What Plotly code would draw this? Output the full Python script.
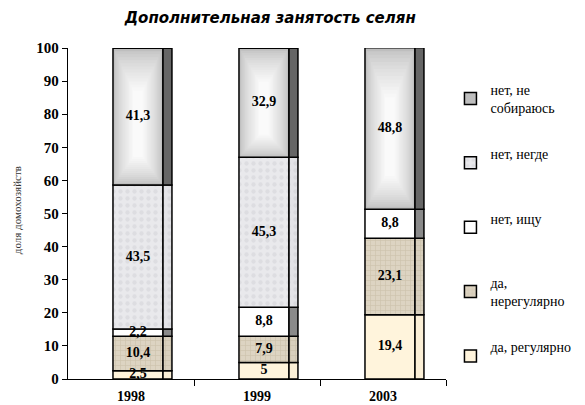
import numpy as np
import plotly.graph_objects as go

years = ["1998", "1999", "2003"]
# series, bottom to top
s_reg = [2.5, 5.0, 19.4]      # да, регулярно
s_nereg = [10.4, 7.9, 23.1]   # да, нерегулярно
s_ishu = [2.2, 8.8, 8.8]      # нет, ищу
s_negde = [43.5, 45.3, 0.0]   # нет, негде
s_nesob = [41.3, 32.9, 48.8]  # нет, не собираюсь
y_ticks = [0, 10, 20, 30, 40, 50, 60, 70, 80, 90, 100]

NB = "<br>\u00a0"
names = ["да, регулярно" + NB, "да,<br>нерегулярно", "нет, ищу" + NB, "нет, негде" + NB, "нет, не<br>собираюсь"]
series = [s_reg, s_nereg, s_ishu, s_negde, s_nesob]

SERIF = "Liberation Serif, Times New Roman, Tinos, serif"

front_col = ["#FFF4DC", "#DDD4C2", "#FFFFFF", "#E9E9EC", "#BEBEBE"]
side_col = ["#FBEFD6", "#D8CFBD", "#8A8A8A", "#E3E3E7", "#666666"]
patterns = [None,
            dict(shape="+", fgcolor="#B5A98F", fgopacity=0.4, size=5, solidity=0.25),
            None,
            dict(shape=".", fgcolor="#C4C4CA", fgopacity=0.35, size=7, solidity=0.3),
            None]

x = np.arange(len(years))
FW, FO = 0.397, -0.143   # front width / offset (category units)
SW, SO = 0.071, 0.254    # side width / offset

vals = np.array(series)
bases = np.vstack([np.zeros(len(years)), np.cumsum(vals, axis=0)[:-1]])

fig = go.Figure()
for k in range(len(series)):
    v = vals[k]
    b = bases[k]
    pat = patterns[k]
    mk = dict(color=front_col[k], line=dict(color="black", width=1.5))
    if pat:
        mk["pattern"] = dict(fillmode="overlay", **pat)
    fig.add_trace(go.Bar(x=x, y=v, base=b, width=FW, offset=FO, name=names[k],
                         marker=mk, legendgroup=str(k), legendrank=100 - k,
                         hoverinfo="skip"))
    mk2 = dict(color=side_col[k], line=dict(color="black", width=1.5))
    if pat:
        mk2["pattern"] = dict(fillmode="overlay", **pat)
    fig.add_trace(go.Bar(x=x, y=v, base=b, width=SW, offset=SO, showlegend=False,
                         marker=mk2, legendgroup=str(k), hoverinfo="skip"))

# gradient layers for the top segment (нет, не собираюсь)
k = 4
v = vals[k]; b = bases[k]
n = 14
c = 0.40
for j in range(1, n + 1):
    t = j / (n + 1)
    s = 1 - 0.85 * t
    sv = 1 - 0.55 * t
    lo = b + v * (c - c * sv)
    hi = b + v * (c + (1 - c) * sv)
    w = FW * s - 0.006
    off = FO + (FW - w) / 2
    g = int(192 + (253 - 192) * t ** 0.7)
    fig.add_trace(go.Bar(x=x, y=hi - lo, base=lo, width=w, offset=off, showlegend=False,
                         marker=dict(color=f"rgb({g},{g},{g})", line=dict(width=0)),
                         legendgroup=str(k), hoverinfo="skip"))

# value labels
lx, ly, lt = [], [], []
for k in range(len(series)):
    for i in range(len(years)):
        if vals[k][i] > 0:
            lx.append(x[i] + FO + FW / 2)
            ly.append(bases[k][i] + vals[k][i] / 2)
            lt.append(("%g" % vals[k][i]).replace(".", ","))
fig.add_trace(go.Scatter(x=lx, y=ly, text=lt, mode="text", showlegend=False,
                         textfont=dict(family=SERIF, size=14, color="black"),
                         texttemplate="<b>%{text}</b>", hoverinfo="skip"))

fig.update_layout(
    width=585, height=405,
    margin=dict(l=68, r=139, t=48, b=26, autoexpand=False),
    paper_bgcolor="white", plot_bgcolor="white",
    barmode="overlay",
    showlegend=True,
    title=dict(text="<b><i>Дополнительная занятость селян</i></b>",
               font=dict(family="DejaVu Sans", size=15, color="black"),
               x=0.462, xref="container", xanchor="center",
               y=0.955, yref="container", yanchor="middle"),
    legend=dict(x=0.770, xref="container", xanchor="left",
                y=0.818, yref="container", yanchor="top", maxheight=380,
                font=dict(family=SERIF, size=14, color="black"),
                traceorder="grouped", tracegroupgap=25, bgcolor="rgba(0,0,0,0)"),
    annotations=[dict(text="доля домохозяйств", xref="paper", yref="paper",
                      x=-0.135, y=0.51, xanchor="center", yanchor="middle",
                      textangle=-90, showarrow=False,
                      font=dict(family=SERIF, size=11, color="#333333"))],
)
fig.update_xaxes(range=[-0.5, 2.5], tickmode="array", tickvals=list(x),
                 ticktext=[f"<b>{t}</b>" for t in years], automargin=False,
                 ticks="", showline=True, linecolor="black", linewidth=1.3,
                 showgrid=False, zeroline=False, ticklabelstandoff=4,
                 tickfont=dict(family=SERIF, size=14, color="black"),
                 minor=dict(tickmode="array", tickvals=[0.5, 1.5, 2.5], ticks="outside",
                            ticklen=6, tickwidth=1.3, tickcolor="black"))
fig.update_yaxes(range=[0, 100], tickmode="array", tickvals=y_ticks, automargin=False,
                 ticktext=[f"<b>{t}</b>" for t in y_ticks],
                 ticks="outside", ticklen=5, tickwidth=1.3, tickcolor="black",
                 showline=True, linecolor="black", linewidth=1.3,
                 showgrid=False, zeroline=False,
                 tickfont=dict(family=SERIF, size=15, color="black"))

fig.write_html("out.html", config={"displayModeBar": False},
               post_script="document.body.style.margin='0px';document.body.style.padding='0px';")
